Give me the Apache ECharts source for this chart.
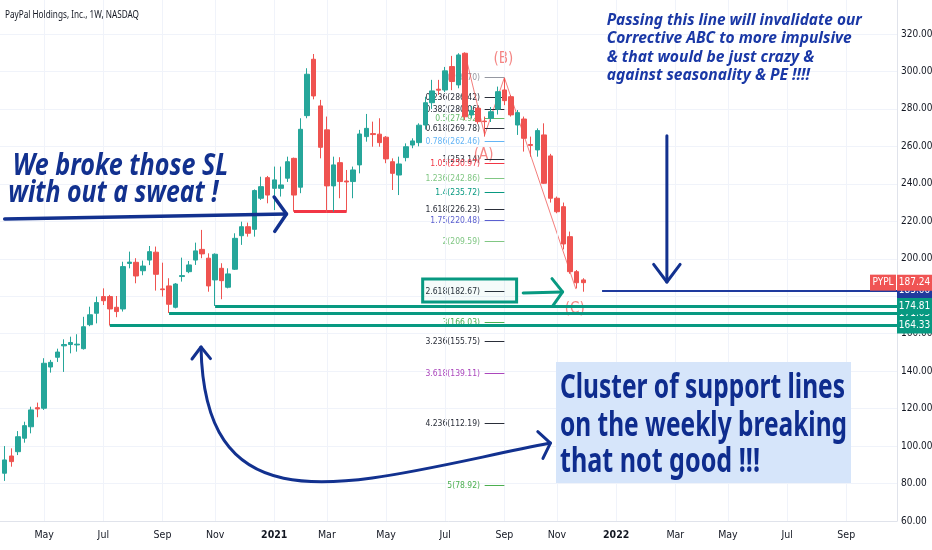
<!DOCTYPE html>
<html>
<head>
<meta charset="utf-8">
<script src="https://cdn.jsdelivr.net/npm/echarts@6.0.0/dist/echarts.min.js"></script>
<style>
html,body{margin:0;padding:0;background:#ffffff;}
#chart{width:932px;height:550px;}
</style>
</head>
<body>
<div id="chart"></div>
<script>
// ---------------- data ----------------
const weeks = ['2020-03-23','2020-03-30','2020-04-06','2020-04-13','2020-04-20','2020-04-27','2020-05-04','2020-05-11','2020-05-18','2020-05-25','2020-06-01','2020-06-08','2020-06-15','2020-06-22','2020-06-29','2020-07-06','2020-07-13','2020-07-20','2020-07-27','2020-08-03','2020-08-10','2020-08-17','2020-08-24','2020-08-31','2020-09-07','2020-09-14','2020-09-21','2020-09-28','2020-10-05','2020-10-12','2020-10-19','2020-10-26','2020-11-02','2020-11-09','2020-11-16','2020-11-23','2020-11-30','2020-12-07','2020-12-14','2020-12-21','2020-12-28',
'2021-01-04','2021-01-11','2021-01-18','2021-01-25','2021-02-01','2021-02-08','2021-02-15','2021-02-22','2021-03-01','2021-03-08','2021-03-15','2021-03-22','2021-03-29','2021-04-05','2021-04-12','2021-04-19','2021-04-26','2021-05-03','2021-05-10','2021-05-17','2021-05-24','2021-05-31','2021-06-07','2021-06-14','2021-06-21','2021-06-28','2021-07-05','2021-07-12','2021-07-19','2021-07-26','2021-08-02','2021-08-09','2021-08-16','2021-08-23','2021-08-30','2021-09-06','2021-09-13','2021-09-20','2021-09-27','2021-10-04','2021-10-11','2021-10-18','2021-10-25','2021-11-01','2021-11-08','2021-11-15','2021-11-22','2021-11-29'];

const opens = [85.5, 94.7, 97.0, 104.2, 110.3, 120.5, 120.2, 142.2, 147.4, 153.5,
 154.2, 154.0, 152.0, 164.8, 170.9, 179.8, 179.8, 174.1, 173.2, 197.5,
 198.1, 193.6, 199.3, 203.5, 183.9, 185.5, 174.1, 190.5, 193.1, 199.3,
 205.0, 200.3, 188.7, 194.9, 184.8, 194.4, 212.3, 217.1, 215.7, 232.3,
 243.3, 237.6, 237.6, 243.0, 253.6, 238.2, 276.4, 306.5, 281.6, 268.8,
 238.9, 251.3, 241.5, 241.2, 250.1, 265.2, 266.8, 266.5, 264.9, 251.8,
 244.7, 254.0, 260.7, 262.0, 271.4, 283.3, 290.5, 290.1, 302.6, 292.8,
 309.7, 276.8, 280.3, 273.5, 275.0, 279.8, 290.1, 286.5, 271.4, 274.6,
 261.0, 258.1, 266.1, 254.9, 232.3, 227.8, 211.8, 193.1, 188.7];

const closes = [92.6, 91.7, 105.0, 110.9, 119.3, 119.8, 144.2, 144.7, 150.2, 154.2,
 155.3, 154.4, 163.7, 170.1, 176.6, 177.6, 173.2, 171.8, 195.8, 198.2,
 190.8, 196.1, 203.8, 191.7, 183.5, 175.7, 186.5, 191.0, 196.7, 204.2,
 202.6, 185.5, 202.4, 188.3, 191.9, 210.9, 217.1, 213.6, 236.4, 238.5,
 234.0, 242.1, 239.4, 251.8, 234.0, 269.1, 298.5, 286.9, 259.5, 238.9,
 250.1, 241.2, 241.0, 247.4, 266.6, 269.6, 266.3, 262.0, 253.3, 245.6,
 250.6, 259.8, 262.9, 271.3, 283.3, 289.6, 290.0, 300.3, 294.6, 308.8,
 275.8, 279.1, 273.2, 273.2, 278.5, 289.2, 284.4, 276.8, 278.0, 264.3,
 260.5, 268.4, 240.3, 232.3, 225.1, 207.9, 193.1, 187.2, 187.24];

const lows = [81.4, 89.0, 95.2, 101.8, 106.8, 115.4, 119.3, 139.2, 144.9, 139.6,
 149.5, 150.4, 151.5, 164.0, 165.5, 175.3, 164.33, 168.8, 171.8, 194.9,
 186.9, 191.2, 196.6, 183.0, 179.8, 171.05, 173.5, 187.8, 192.3, 196.7,
 200.3, 182.4, 174.81, 178.4, 184.2, 194.0, 207.4, 211.8, 211.8, 231.4,
 229.6, 226.0, 233.2, 241.0, 225.1, 235.0, 275.0, 285.1, 253.6, 224.5,
 225.1, 232.3, 225.1, 232.3, 245.6, 262.5, 259.8, 259.8, 251.0, 236.7,
 234.0, 252.0, 259.0, 260.0, 269.0, 280.0, 287.4, 289.0, 290.0, 291.0,
 274.0, 275.0, 272.0, 265.2, 273.0, 277.0, 282.0, 275.9, 266.1, 257.2,
 254.5, 254.5, 240.0, 230.0, 224.3, 205.0, 192.0, 184.2, 182.4];

const highs = [100.0, 98.8, 108.0, 113.0, 121.0, 123.2, 146.9, 146.0, 152.0, 157.0,
 158.4, 159.7, 169.0, 174.4, 179.8, 184.2, 180.7, 180.1, 198.4, 203.8,
 200.3, 199.0, 206.8, 206.5, 197.9, 189.6, 187.0, 200.6, 198.8, 208.6,
 215.4, 202.9, 202.9, 197.6, 194.9, 213.6, 219.8, 219.3, 237.0, 243.8,
 244.2, 249.2, 249.2, 254.5, 254.0, 275.0, 301.7, 309.3, 284.8, 275.9,
 254.5, 254.2, 247.4, 249.2, 268.8, 277.3, 273.2, 275.0, 265.5, 253.6,
 254.5, 261.6, 264.3, 272.3, 286.5, 295.5, 295.5, 302.4, 308.3, 309.7,
 310.2, 281.6, 281.2, 275.9, 281.0, 291.9, 296.7, 287.4, 279.4, 275.9,
 265.2, 269.6, 272.3, 256.0, 233.2, 230.0, 214.5, 194.0, 189.6];

const xTickDates = ['2020-05-04','2020-07-06','2020-09-07','2020-11-02','2021-01-04','2021-03-01','2021-05-03','2021-07-05','2021-09-06','2021-11-01','2022-01-03','2022-03-07','2022-05-02','2022-07-04','2022-09-05'];
const xTickLabels = ['May','Jul','Sep','Nov','2021','Mar','May','Jul','Sep','Nov','2022','Mar','May','Jul','Sep'];

const fibRatios = ['0','0.236','0.382','0.5','0.618','0.786','1','1.05','1.236','1.4','1.618','1.75','2','2.618','3','3.236','3.618','4.236','5'];
const fibPrices = [296.70, 286.42, 280.06, 274.92, 269.78, 262.46, 253.14, 250.97, 242.86, 235.72, 226.23, 220.48, 209.59, 182.67, 166.03, 155.75, 139.11, 112.19, 78.92];
const fibColors = ['#9598a1','#2a2e39','#2a2e39','#66bb6a','#2a2e39','#64b5f6','#2a2e39','#f23645','#81c784','#089981','#2a2e39','#5b5fd0','#81c784','#2a2e39','#4caf50','#2a2e39','#ab47bc','#2a2e39','#4caf50'];
const fibSpan = ['2021-08-16','2021-09-06'];

const supportStarts = ['2020-11-02','2020-09-14','2020-07-13'];
const supportPrices = [174.81, 171.05, 164.33];
const slLine = [['2021-01-25', 225.1], ['2021-03-22', 225.1]];
const invalidation = { start: '2021-12-19', price: 183.00 };
const lastPrice = 187.24;
const abcPath = [['2021-07-26', 309.7], ['2021-08-16', 266.1], ['2021-09-06', 296.7], ['2021-11-21', 184.0]];
const abcLabels = [['(A)', '2021-08-15', 255.4], ['(B)', '2021-09-05', 306.7], ['(C)', '2021-11-20', 173.2]];
const targetBox = [['2021-06-11', 189.2], ['2021-09-19', 176.9]];
const targetArrow = [['2021-09-26', 181.7], ['2021-11-07', 182.3]];
const slArrow = [['2020-03-23', 221.2], ['2021-01-17', 223.9]];
const downArrow = [['2022-02-26', 265.6], ['2022-02-26', 187.6]];
const curveArrow = [['2020-10-18', 152.9], ['2020-10-22', 49.9], ['2021-04-05', 81.9], ['2021-10-25', 101.6]];

// ---------------- helpers ----------------
const ts = s => Date.parse(s + 'T00:00:00Z');
const xMin = ts('2020-03-18'), xMax = ts('2022-10-29');
const xTickTimes = xTickDates.map(ts);
const candleData = weeks.map((w, i) => [ts(w), opens[i], closes[i], lows[i], highs[i]]);

const mctx = document.createElement('canvas').getContext('2d');
function pickFont(list, fallback) {
  const s = '320.00 May Jul Sep 0123456789 PYPL';
  for (const f of list) {
    mctx.font = '20px "' + f + '", monospace'; const a = mctx.measureText(s).width;
    mctx.font = '20px "' + f + '", serif'; const b = mctx.measureText(s).width;
    mctx.font = '20px monospace'; const m = mctx.measureText(s).width;
    if (Math.abs(a - b) < 0.01 && Math.abs(a - m) > 0.5) return f;
  }
  return fallback;
}
const NARROW = pickFont(['Liberation Sans Narrow', 'DejaVu Sans Condensed', 'Roboto Condensed'], 'Noto Sans');

const UP = '#26a69a', DOWN = '#ef5350', TEAL = '#089981', NAVY = '#12318f';
const TXT = '#131722';

const chart = echarts.init(document.getElementById('chart'), null, { renderer: 'canvas', width: 932, height: 550 });

const option = {
  animation: false,
  backgroundColor: '#ffffff',
  grid: { left: 0, right: 35, top: -3.5, bottom: 29, containLabel: false, outerBoundsMode: 'none' },
  xAxis: {
    type: 'value', min: xMin, max: xMax, scale: true,
    axisLine: { show: true, onZero: false, lineStyle: { color: '#e0e3eb' } },
    axisTick: { show: false },
    splitLine: { show: false },
    axisLabel: {
      customValues: xTickTimes,
      hideOverlap: false,
      color: TXT, fontSize: 10.5, fontFamily: NARROW, margin: 9,
      formatter: function (v) {
        let idx = -1;
        for (let i = 0; i < xTickTimes.length; i++) if (Math.abs(xTickTimes[i] - v) < 43200000) idx = i;
        if (idx < 0) return '';
        const t = xTickLabels[idx];
        return /^\d{4}$/.test(t) ? '{y|' + t + '}' : t;
      },
      rich: { y: { fontWeight: 'bold', color: TXT, fontSize: 10.5, fontFamily: NARROW } }
    }
  },
  yAxis: {
    type: 'value', position: 'right', min: 60, max: 340, interval: 20,
    axisLine: { show: true, lineStyle: { color: '#e0e3eb' } },
    axisTick: { show: false },
    splitLine: { show: true, lineStyle: { color: '#f0f3fa', width: 1 } },
    axisLabel: { color: TXT, fontSize: 10, fontFamily: NARROW, margin: 4,
      formatter: v => v >= 340 ? '' : v.toFixed(2) }
  },
  series: [
    { type: 'line', name: 'vgrid', data: [], z: 1, silent: true,
      markLine: { silent: true, symbol: ['none', 'none'], label: { show: false }, animation: false,
        lineStyle: { color: '#f0f3fa', width: 1, type: 'solid' },
        data: xTickTimes.map(t => ({ xAxis: t })) } },
    { type: 'line', name: 'fib', data: [], z: 3, silent: true,
      markLine: { silent: true, symbol: ['none', 'none'], label: { show: false }, animation: false,
        data: fibPrices.map((p, i) => [
          { coord: [ts(fibSpan[0]), p], lineStyle: { color: fibColors[i], width: 1, type: 'solid' } },
          { coord: [ts(fibSpan[1]), p] }]) } },
    { type: 'candlestick', name: 'PYPL', data: candleData, z: 5, barWidth: 5,
      encode: { x: 0, y: [1, 2, 3, 4] },
      itemStyle: { color: UP, color0: DOWN, borderColor: UP, borderColor0: DOWN, borderWidth: 1 } },
    { type: 'line', name: 'levels', data: [], z: 6, silent: true,
      markLine: { silent: true, symbol: ['none', 'none'], label: { show: false }, animation: false,
        data: [
          ...supportPrices.map((p, i) => [
            { coord: [ts(supportStarts[i]), p], lineStyle: { color: TEAL, width: 3, type: 'solid' } },
            { coord: [xMax, p] }]),
          [{ coord: [ts(slLine[0][0]), slLine[0][1]], lineStyle: { color: '#f23645', width: 3, type: 'solid' } },
           { coord: [ts(slLine[1][0]), slLine[1][1]] }],
          [{ coord: [ts(invalidation.start), invalidation.price], lineStyle: { color: '#1f3a9e', width: 2, type: 'solid' } },
           { coord: [xMax, invalidation.price] }]
        ] } }
  ]
};
chart.setOption(option);

// ---------------- annotations ----------------
const P = (d, p) => chart.convertToPixel({ gridIndex: 0 }, [typeof d === 'string' ? ts(d) : d, p]);

function textEl(txt, x, baseline, o) {
  const size = o.size, fam = o.family || 'Noto Sans', weight = o.weight || 'normal', st = o.style || 'normal';
  mctx.font = st + ' ' + weight + ' ' + size + 'px "' + fam + '"';
  const w = mctx.measureText(txt).width;
  const sx = o.width ? o.width / w : (o.sx || 1);
  const align = o.align || 'left';
  const el = { type: 'text', x: x, y: baseline - 0.29 * size, z: o.z || 10, silent: true,
    style: { text: txt, fill: o.color, fontSize: size, fontFamily: fam, fontWeight: weight, fontStyle: st,
      align: align, verticalAlign: 'middle' } };
  if (Math.abs(sx - 1) > 0.001) el.scaleX = sx;
  return el;
}
function chevron(tip, from, L, deg) {
  const dx = tip[0] - from[0], dy = tip[1] - from[1], n = Math.hypot(dx, dy);
  const ux = dx / n, uy = dy / n, a = deg * Math.PI / 180;
  const arm = s => { const c = Math.cos(s * a), sn = Math.sin(s * a);
    const rx = ux * c - uy * sn, ry = ux * sn + uy * c; return [tip[0] - L * rx, tip[1] - L * ry]; };
  return [arm(1), tip, arm(-1)];
}
function poly(points, color, width, z) {
  return { type: 'polyline', z: z || 10, silent: true, shape: { points: points },
    style: { stroke: color, lineWidth: width, fill: null, lineCap: 'round', lineJoin: 'round' } };
}

function buildGraphics() {
  const g = [];
  const gridRight = P(xMax, 100)[0];

  fibPrices.forEach((p, i) => {
    const pt = P(fibSpan[0], p);
    g.push(textEl(fibRatios[i] + '(' + p.toFixed(2) + ')', Math.round(pt[0] - 4.5), pt[1] + 3.0, { size: 8.5, family: NARROW, color: fibColors[i], align: 'right', z: 3 }));
  });

  g.push(poly(abcPath.map(a => P(a[0], a[1])), 'rgba(239,83,80,0.75)', 1, 4));
  abcLabels.forEach(l => {
    const pt = P(l[1], l[2]);
    g.push({ type: 'text', x: pt[0], y: pt[1], z: 4, silent: true,
      style: { text: l[0], fill: 'rgba(239,83,80,0.7)', fontSize: 15, fontFamily: NARROW, align: 'center', verticalAlign: 'middle' } });
  });

  const b0 = P(targetBox[0][0], targetBox[0][1]), b1 = P(targetBox[1][0], targetBox[1][1]);
  g.push({ type: 'rect', z: 7, silent: true, shape: { x: b0[0], y: b0[1], width: b1[0] - b0[0], height: b1[1] - b0[1] },
    style: { stroke: TEAL, lineWidth: 3, fill: 'rgba(8,153,129,0.04)' } });
  const ta0 = P(targetArrow[0][0], targetArrow[0][1]), ta1 = P(targetArrow[1][0], targetArrow[1][1]);
  g.push(poly([ta0, ta1], TEAL, 3, 7));
  g.push(poly(chevron(ta1, ta0, 17, 53), TEAL, 3, 7));

  const s0 = P(slArrow[0][0], slArrow[0][1]), s1 = P(slArrow[1][0], slArrow[1][1]);
  g.push(poly([s0, s1], NAVY, 3.5, 10));
  g.push(poly(chevron(s1, s0, 21, 55), NAVY, 3.5, 10));

  const d0 = P(downArrow[0][0], downArrow[0][1]), d1 = P(downArrow[1][0], downArrow[1][1]);
  g.push(poly([d0, d1], NAVY, 3, 10));
  g.push(poly(chevron(d1, d0, 22, 37), NAVY, 3, 10));

  const c = curveArrow.map(a => P(a[0], a[1]));
  g.push({ type: 'bezierCurve', z: 10, silent: true,
    shape: { x1: c[0][0], y1: c[0][1], cpx1: c[1][0], cpy1: c[1][1], cpx2: c[2][0], cpy2: c[2][1], x2: c[3][0], y2: c[3][1] },
    style: { stroke: NAVY, lineWidth: 3, fill: null, lineCap: 'round' } });
  g.push(poly(chevron(c[0], c[1], 15, 38), NAVY, 3, 10));
  g.push(poly(chevron(c[3], c[2], 17, 53), NAVY, 3, 10));

  g.push({ type: 'rect', z: 8, silent: true, shape: { x: 556, y: 362, width: 295, height: 121 }, style: { fill: '#d6e5fa' } });
  const CL = '#0e2c8e';
  g.push(textEl('Cluster of support lines', 560, 398.3, { size: 34, color: CL, weight: 'bold', width: 285, z: 9 }));
  g.push(textEl('on the weekly breaking', 560, 435.7, { size: 34, color: CL, weight: 'bold', width: 287, z: 9 }));
  g.push(textEl('that not good !!!', 560, 471.7, { size: 34, color: CL, weight: 'bold', width: 200, z: 9 }));

  g.push(textEl('We broke those SL', 12.7, 175, { size: 30, color: NAVY, weight: 'bold', style: 'italic', width: 215.6 }));
  g.push(textEl('with out a sweat !', 8.3, 201.7, { size: 30, color: NAVY, weight: 'bold', style: 'italic', width: 210 }));

  const UR = '#1a38a6';
  g.push(textEl('Passing this line will invalidate our', 606.7, 25, { size: 16, color: UR, weight: 'bold', style: 'italic', width: 255 }));
  g.push(textEl('Corrective ABC to more impulsive', 606.7, 43.5, { size: 16, color: UR, weight: 'bold', style: 'italic', width: 245 }));
  g.push(textEl('& that would be just crazy &', 606.7, 62, { size: 16, color: UR, weight: 'bold', style: 'italic', width: 207.6 }));
  g.push(textEl('against seasonality & PE !!!!', 606.7, 80, { size: 16, color: UR, weight: 'bold', style: 'italic', width: 203.3 }));

  g.push(textEl('PayPal Holdings, Inc., 1W, NASDAQ', 5, 18.5, { size: 11.5, color: TXT, width: 134 }));

  function badge(price, text, color, z) {
    const y = P(xMax, price)[1];
    g.push({ type: 'rect', z: z, silent: true, shape: { x: gridRight, y: y - 8, width: 932 - gridRight, height: 16 }, style: { fill: color } });
    g.push({ type: 'text', z: z, silent: true, x: gridRight + (932 - gridRight) / 2, y: y,
      style: { text: text, fill: '#ffffff', fontSize: 10, fontFamily: NARROW, align: 'center', verticalAlign: 'middle' } });
  }
  badge(invalidation.price, invalidation.price.toFixed(2), '#1f3a9e', 20);
  badge(supportPrices[1], supportPrices[1].toFixed(2), TEAL, 20);
  badge(lastPrice, lastPrice.toFixed(2), '#f05454', 21);
  badge(supportPrices[0], supportPrices[0].toFixed(2), TEAL, 21);
  badge(supportPrices[2], supportPrices[2].toFixed(2), TEAL, 21);
  const ly = P(xMax, lastPrice)[1];
  g.push({ type: 'rect', z: 21, silent: true, shape: { x: gridRight - 27, y: ly - 8, width: 26, height: 16 }, style: { fill: '#f05454' } });
  g.push({ type: 'text', z: 21, silent: true, x: gridRight - 14, y: ly,
    style: { text: 'PYPL', fill: '#ffffff', fontSize: 10, fontFamily: NARROW, align: 'center', verticalAlign: 'middle' } });

  chart.setOption({ graphic: { elements: g } });
}
buildGraphics();
</script>
</body>
</html>
